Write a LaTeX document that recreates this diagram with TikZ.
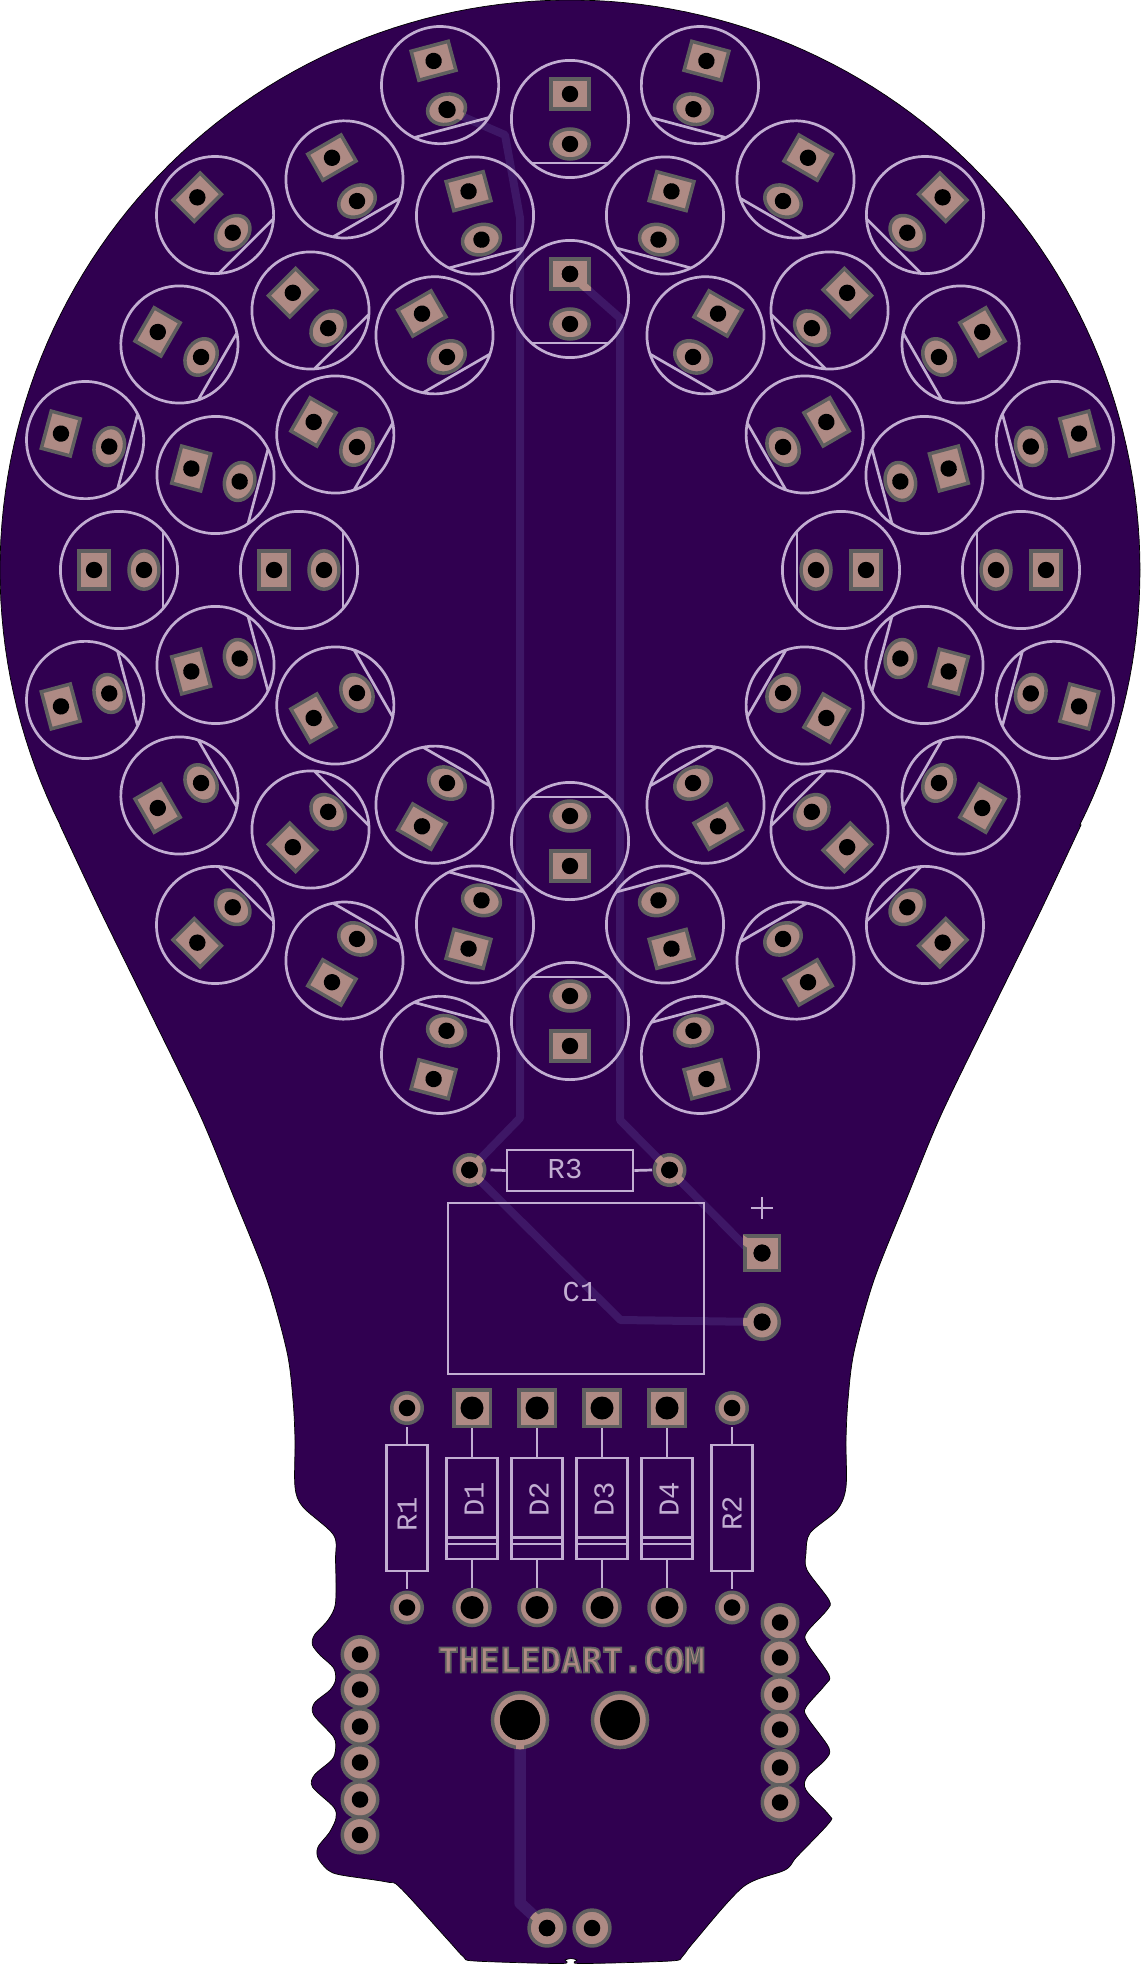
\documentclass[tikz,border=0pt]{standalone}
\usepackage{fontspec}
\newfontfamily\silkfont{Liberation Mono}
\newfontfamily\copperfont{DejaVu Sans Mono}
\definecolor{boardcol}{HTML}{300050}
\definecolor{tracecol}{HTML}{3E1766}
\definecolor{padcol}{HTML}{AE8A84}
\definecolor{maskcol}{HTML}{5F5F5F}
\definecolor{silkcol}{HTML}{C2AED2}
\tikzset{
  board/.style={fill=boardcol, draw=black, line width=0.007cm},
  trace/.style={draw=tracecol, line width=0.08cm, line join=round},
  silk/.style={draw=silkcol, line width=0.027cm},
  pad/.style={fill=padcol, draw=maskcol, line width=0.035cm},
  tie/.style={draw=padcol, line width=0.08cm},
  hole/.style={fill=black},
  silklabel/.style={text=silkcol, font=\silkfont\fontsize{8.2}{9}\selectfont, inner sep=0pt},
}
% One LED of the rings: square pad outside, round pad inside, flat on the inner side
\newcommand{\ledpart}[2]{
  \begin{scope}[shift={({570+#1*cos(#2)},{570+#1*sin(#2)})}, rotate={270-#2}]
    \filldraw[pad] (-19.2,-40.2) rectangle (19.2,-10.2);
    \filldraw[pad] (0,25) ellipse (19.2 and 15);
    \fill[hole] (0,-25) circle (8.2);
    \fill[hole] (0,25) circle (8.2);
    \draw[silk] (0,0) circle (58.6);
    \draw[silk] (-38,44) -- (38,44);
  \end{scope}
}
% Round through hole pad: x, y, outer diameter, hole diameter
\newcommand{\roundpad}[4]{
  \filldraw[pad] (#1,#2) circle ({(#3-3.5)/2});
  \fill[hole] (#1,#2) circle ({#4/2});
}
\newcommand{\squarepad}[4]{
  \filldraw[pad] ({#1-(#3-3.5)/2},{#2-(#3-3.5)/2}) rectangle ({#1+(#3-3.5)/2},{#2+(#3-3.5)/2});
  \fill[hole] (#1,#2) circle ({#4/2});
}
% Copper of a trace showing through the mask ring: clip path, pad, far end, hole radius
\newcommand{\padtie}[4]{
  \begin{scope}
    \clip #1;
    \draw[tie] (#2) -- (#3);
  \end{scope}
  \fill[hole] (#2) circle (#4);
}
\begin{document}
\begin{tikzpicture}[x=0.01cm, y=-0.01cm]
    \useasboundingbox (0,0) rectangle (1141,1964);

    % Board outline
    \filldraw[board] plot[domain=153.43:386.57, samples=150] ({570+570*cos(\x)},{570+570*sin(\x)})
      -- plot[smooth, tension=0.5] coordinates {(1081,825) (1041,910) (991,1012) (941,1115) (908,1195)
        (874,1280) (854,1352) (848,1400) (846,1440) (846,1487) (837,1510) (810,1533) (806,1553) (807,1570)
        (829,1600) (827,1610) (807,1632) (807,1643) (829,1675) (825,1685) (806,1707) (807,1717)
        (829,1748) (825,1760) (807,1777) (806,1790) (829,1815) (829,1823) (796.6,1857) (785,1870)
        (743,1887) (693,1943) (682,1957) (670,1961) (580,1963.5) (577,1960) (571,1958.5) (565,1960) (561,1963.5)
        (475,1961) (463.7,1957) (448,1940) (400.5,1888) (387,1882) (341,1875) (327.8,1870) (318,1858)
        (318,1847) (329.7,1832) (336,1818) (333.6,1807) (312.5,1787) (314.4,1775) (331.7,1760)
        (335.5,1750) (333.6,1737) (313.7,1715) (314.4,1703) (330,1690) (335.5,1680) (333.6,1668)
        (320,1655) (312.5,1645) (314.4,1635) (328,1620) (335.5,1603) (335.5,1560) (333.6,1535)
        (303,1507) (295,1487) (295,1440) (293,1400) (287,1352) (267,1280) (233,1195) (200,1115)
        (150,1012) (100,910) (60,825)} -- cycle;

    % Pad positions the traces run to
    \coordinate (ledOuter) at (447.5,110);
    \coordinate (ledInner) at (570,274);
    \coordinate (rThreeL) at (469.5,1170);
    \coordinate (rThreeR) at (669.5,1170);
    \coordinate (pinPlus) at (762,1253);
    \coordinate (pinMinus) at (762,1322);
    \coordinate (bulbHole) at (520,1720);
    \coordinate (tailPad) at (547,1928);

    % Traces
    \draw[trace] (ledOuter) -- (505,135) -- (520,218) -- (520,1118) -- (rThreeL);
    \draw[trace] (ledInner) -- (620,318) -- (620,1120) -- (rThreeR) -- (745,1246) -- (pinPlus);
    \draw[trace] (rThreeL) -- (620.5,1320) -- (pinMinus);
    \draw[trace, line width=0.115cm] (bulbHole) -- (520,1903) -- (tailPad);

    % LED rings
    \foreach \a in {15,45,...,345} {
        \ledpart{502}{\a}
        \ledpart{367}{\a}
    }
    \foreach \a in {0,30,...,330} {
        \ledpart{451}{\a}
        \ledpart{271}{\a}
    }

    % R3 and C1
    \roundpad{469.5}{1170}{34}{16.5}
    \roundpad{669.5}{1170}{34}{16.5}
    \node[silk, draw, minimum width=1.26cm, minimum height=0.41cm, inner sep=0pt] (rThree) at (570,1170.5) {};
    \node[silklabel] (rThreeText) at (565,1169) {R3};
    \coordinate (rThreeA) at (490.5,1170);
    \coordinate (rThreeB) at (652,1170);
    \draw[silk] (rThreeA) -- (rThree.west);
    \draw[silk] (rThree.east) -- (rThreeB);
    \node[silk, draw, minimum width=2.56cm, minimum height=1.71cm, inner sep=0pt] (cOne) at (576,1288.5) {};
    \node[silklabel] (cOneText) at (580,1292) {C1};

    % Power pins
    \squarepad{762}{1253}{38}{17}
    \roundpad{762}{1322}{38}{17}
    \coordinate (plusW) at (751,1208);
    \coordinate (plusE) at (773,1208);
    \coordinate (plusN) at (762,1197);
    \coordinate (plusS) at (762,1219);
    \draw[silk] (plusW) -- (plusE);
    \draw[silk] (plusN) -- (plusS);

    % R1 and R2
    \foreach \x/\n/\ty in {407/1/1514, 732/2/1513} {
        \roundpad{\x}{1408}{34}{16.5}
        \roundpad{\x}{1607.5}{34}{16.5}
        \draw[silk] (\x-20.7,1445) rectangle (\x+20.7,1571);
        \draw[silk] (\x,1427) -- (\x,1445);
        \draw[silk] (\x,1571) -- (\x,1589);
        \node[silklabel, rotate=90] (rText\n) at (\x,\ty) {R\n};
    }

    % Diodes
    \foreach \x/\n in {472/1, 537/2, 602/3, 667/4} {
        \squarepad{\x}{1408}{40}{23}
        \roundpad{\x}{1607.5}{39.5}{23}
        \draw[silk] (\x-25.5,1458) rectangle (\x+25.5,1559);
        \draw[silk] (\x-25.5,1537.5) -- (\x+25.5,1537.5);
        \draw[silk] (\x-25.5,1544) -- (\x+25.5,1544);
        \draw[silk] (\x,1428) -- (\x,1458);
        \draw[silk] (\x,1559) -- (\x,1588);
        \node[silklabel, rotate=90] (dText\n) at (\x+2,1499) {D\n};
    }

    % Edge pads
    \foreach \y in {1654.5,1689.5,1726.5,1762.5,1799.5,1835} {
        \roundpad{360}{\y}{39}{16.5}
    }
    \foreach \y in {1622.5,1657.5,1694.5,1729.5,1767.5,1802.5} {
        \roundpad{780}{\y}{39}{16.5}
    }

    % Large holes and tail pads
    \roundpad{520}{1720}{58.6}{40}
    \roundpad{620}{1720}{58.6}{40}
    \roundpad{547}{1928}{39.4}{16.5}
    \roundpad{592}{1928}{39.4}{16.5}

    % Copper breaks through the mask where a trace arrives
    \padtie{(ledOuter) circle (17)}{ledOuter}{505,135}{8.2}
    \padtie{(549,257) rectangle (591,291)}{ledInner}{620,318}{8.2}
    \padtie{(rThreeL) circle (17)}{rThreeL}{520,1118}{8.25}
    \padtie{(rThreeL) circle (17)}{rThreeL}{620.5,1320}{8.25}
    \padtie{(rThreeR) circle (17)}{rThreeR}{620,1120}{8.25}
    \padtie{(rThreeR) circle (17)}{rThreeR}{745,1246}{8.25}
    \padtie{(743,1234) rectangle (781,1272)}{pinPlus}{700,1210}{8.5}
    \padtie{(pinMinus) circle (19)}{pinMinus}{620.5,1320}{8.5}
    \padtie{(bulbHole) circle (29.3)}{bulbHole}{520,1903}{20}
    \padtie{(tailPad) circle (19.7)}{tailPad}{520,1903}{8.25}

    % Copper text
    \node[text=padcol, font=\copperfont\bfseries\fontsize{9.7}{10}\selectfont, inner sep=0pt] (siteText) at (571.5,1660)
      {\special{pdf:code q 2 Tr 0.373 0.373 0.373 RG 0.5 w}THELEDART.COM\special{pdf:code Q}};
\end{tikzpicture}
\end{document}
